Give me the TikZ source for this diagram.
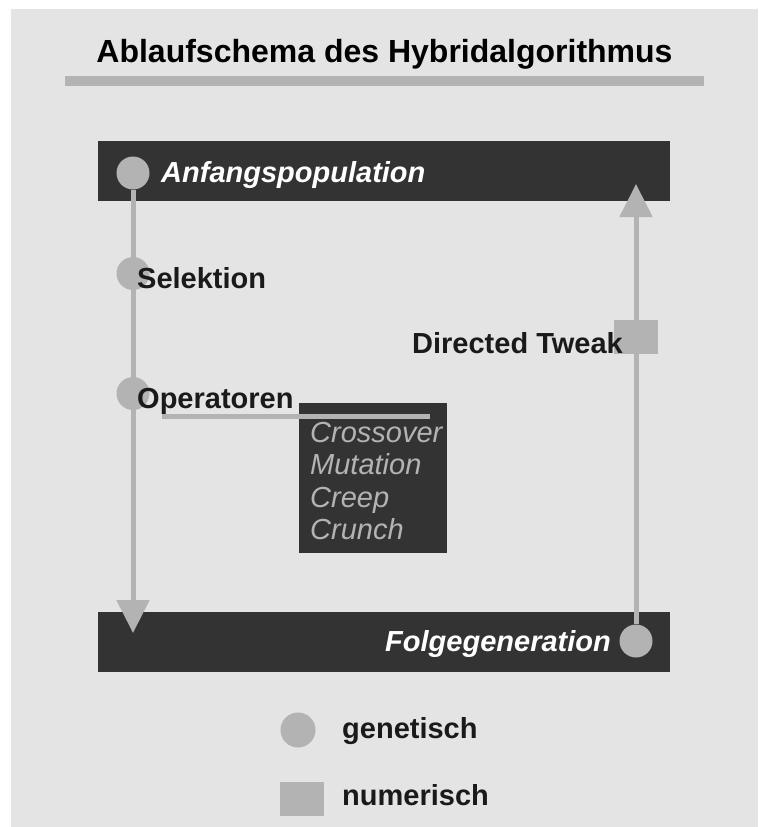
\documentclass[tikz,border=0pt]{standalone}
\usepackage{fontspec}
\setmainfont{Liberation Sans}
\usetikzlibrary{arrows.meta}
\definecolor{panel}{HTML}{E4E4E4}
\definecolor{dark}{HTML}{333333}
\definecolor{markgrey}{HTML}{B3B3B3}
\definecolor{ink}{HTML}{1A1A1A}
\begin{document}
\begin{tikzpicture}[x=1pt,y=-1pt,
  bar/.style={rectangle, fill=dark, draw=none, minimum width=572pt, minimum height=60pt, inner sep=0pt, anchor=north west},
  dot/.style={circle, fill=markgrey, minimum size=33pt, inner sep=0pt},
  tweakbox/.style={rectangle, fill=markgrey, minimum width=44pt, minimum height=34pt, inner sep=0pt},
  flow/.style={draw=markgrey, line width=5pt, -{Triangle[width=32pt,length=33pt]}},
  steptext/.style={anchor=base west, inner sep=0pt, text=ink, font=\bfseries\fontsize{29}{32}\selectfont},
  bartext/.style={anchor=base west, inner sep=0pt, text=white, font=\bfseries\itshape\fontsize{29}{32}\selectfont},
  optext/.style={anchor=base west, inner sep=0pt, text=markgrey, font=\itshape\fontsize{29}{32}\selectfont}]
  % page and panel
  \useasboundingbox (0,0) rectangle (758,827);
  \fill[white] (0,0) rectangle (758,827);
  \fill[panel] (11,9) rectangle (758,827);

  % heading
  \node[anchor=base, inner sep=0pt, font=\bfseries\fontsize{32}{36}\selectfont] (title) at (384.5,62) {Ablaufschema des Hybridalgorithmus};
  \fill[markgrey] (65,76) rectangle (704,86);

  % population bars
  \node[bar] (start) at (98,141) {};
  \node[bar] (next) at (98,611.5) {};

  % operator box
  \node[rectangle, fill=dark, minimum width=148.5pt, minimum height=150.5pt, inner sep=0pt, anchor=north west] (opbox) at (298.5,402.5) {};
  \node[optext] (op1) at (310,442) {Crossover};
  \node[optext] (op2) at (310,474) {Mutation};
  \node[optext] (op3) at (310,507) {Creep};
  \node[optext] (op4) at (310,539) {Crunch};

  % genetic steps
  \node[dot] (dotA) at (133,173) {};
  \node[dot] (dotS) at (133,273.5) {};
  \node[dot] (dotO) at (133,393.5) {};
  \node[dot] (dotF) at (636,641) {};
  \coordinate (tipL) at (133,633);
  \coordinate (tipR) at (636,184);
  \draw[flow] (dotA) -- (tipL);
  \draw[flow] (dotF) -- (tipR);

  % numerical step
  \node[tweakbox] (tweak) at (635.5,337) {};

  % operator link
  \coordinate (linkA) at (162,416.5);
  \coordinate (linkB) at (430,416.5);
  \draw[markgrey, line width=5pt] (linkA) -- (linkB);

  % labels
  \node[bartext] (tstart) at (161,182) {Anfangspopulation};
  \node[bartext, anchor=base east] (tnext) at (611,651) {Folgegeneration};
  \node[steptext] (tsel) at (137,288) {Selektion};
  \node[steptext] (top) at (137,408) {Operatoren};
  \node[steptext, anchor=base east] (ttweak) at (623,353) {Directed Tweak};

  % legend
  \node[dot, minimum size=35pt] (legdot) at (298,730) {};
  \node[tweakbox] (legbox) at (302,798.5) {};
  \node[steptext] (legg) at (342,738) {genetisch};
  \node[steptext] (legn) at (342,805) {numerisch};
\end{tikzpicture}
\end{document}
